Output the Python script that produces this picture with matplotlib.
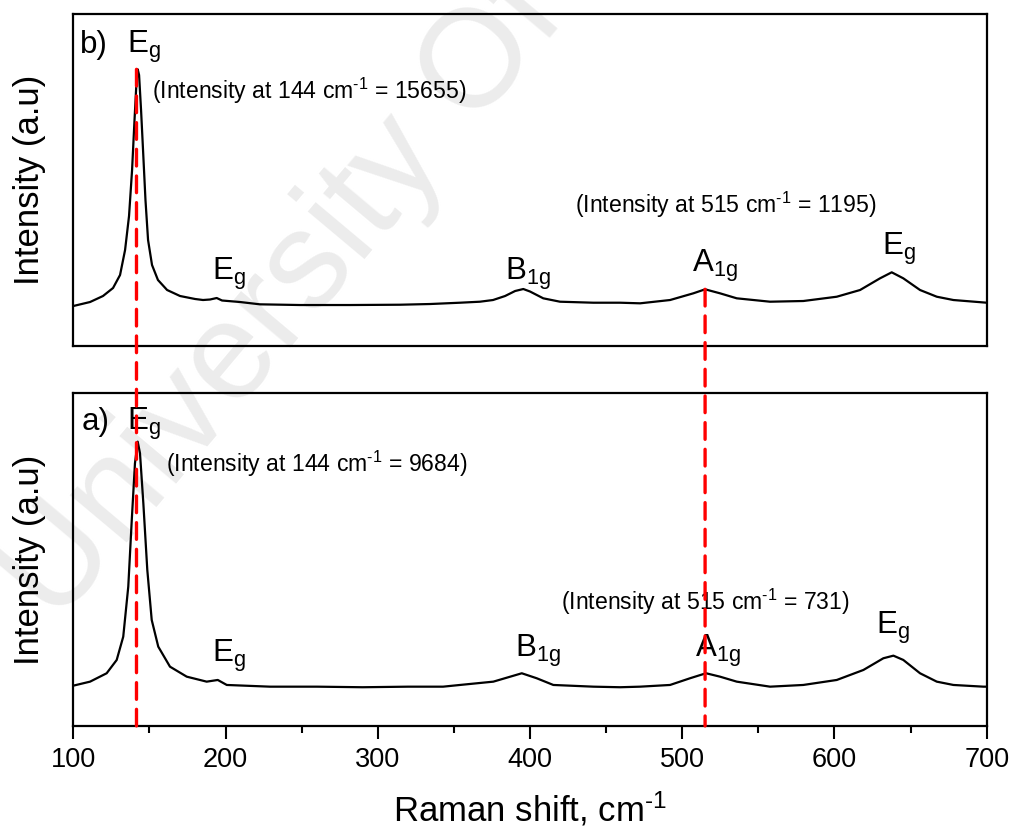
import numpy as np
import matplotlib.pyplot as plt
from matplotlib.patches import ConnectionPatch
from matplotlib.ticker import MultipleLocator

plt.rcParams['font.family'] = ['Liberation Sans', 'DejaVu Sans']
plt.rcParams['mathtext.fontset'] = 'custom'
plt.rcParams['mathtext.rm'] = 'Liberation Sans'
plt.rcParams['mathtext.it'] = 'Liberation Sans:italic'

# ---- spectrum b) (upper panel) ----
shift_b = [100, 111.0, 119.5, 126.1, 130.7, 134.0, 136.6, 138.6, 140.2, 141.5,
           142.3, 143.2, 144.5, 145.8, 147.4, 149.1, 151.7, 155.6, 161.6, 170.1,
           180.0, 185.2, 189.8, 194.2, 197.7, 209.5, 222.6, 248.9, 281.8, 314.6,
           334.3, 354.0, 367.1, 375.7, 383.6, 390.2, 395.6, 400.0, 408.7, 419.7,
           441.6, 459.2, 472.3, 492.0, 507.3, 515.0, 524.8, 535.8, 557.7, 579.5,
           601.5, 616.8, 629.9, 637.6, 645.2, 656.2, 667.2, 678.1, 700]
int_b = [97, 360, 755, 1281, 2135, 3778, 6012, 9036, 12322, 14820,
         15655, 15280, 12979, 10351, 7065, 4436, 2793, 1807, 1150, 755,
         558, 492, 524, 623, 459, 360, 208, 162, 162, 182,
         228, 314, 380, 491, 754, 1083, 1214, 1050, 603, 380,
         314, 314, 274, 491, 932, 1195, 932, 603, 380, 426,
         708, 1149, 1917, 2312, 1917, 1149, 708, 491, 314]

# ---- spectrum a) (lower panel) ----
shift_a = [100, 111.0, 121.9, 128.5, 132.8, 136.1, 138.4, 140.5, 142.3, 143.8,
           146.0, 148.6, 151.5, 155.8, 163.5, 174.5, 187.6, 194.9, 200.8, 229.2,
           260.0, 290.0, 320.0, 342.9, 354.0, 375.9, 394.6, 404.4, 415.3, 441.6,
           459.2, 472.3, 492.0, 505.1, 515.6, 524.8, 535.8, 557.7, 579.5, 601.5,
           619.0, 632.1, 638.7, 645.2, 656.2, 667.2, 678.1, 697.8, 700]
int_a = [251, 406, 730, 1245, 2145, 4078, 6657, 8849, 9684, 9236,
         7303, 4724, 2791, 1759, 985, 599, 406, 471, 278, 212,
         212, 190, 212, 212, 278, 406, 730, 537, 278, 212,
         190, 212, 278, 537, 731, 599, 406, 212, 278, 471,
         858, 1310, 1411, 1245, 730, 406, 278, 212, 212]

# dashed guide lines: Raman shift and where they start in panel b)
mark_shift = [141.5, 515]
mark_start = [15655, 1195]

xlim = (100, 700)
ylim_b = (-2532, 19270)
ylim_a = (-1307, 11555)

fig = plt.figure(figsize=(10.14, 8.38), dpi=100)

# faint watermark behind everything
fig.text(-0.02, 0.265, 'University Of Malaya', rotation=50, fontsize=100,
         color='#ececec', ha='left', va='baseline', zorder=-5)

ax_b = fig.add_axes([0.0723, 0.5871, 0.9008, 0.3958])
ax_a = fig.add_axes([0.0723, 0.1337, 0.9008, 0.3970])

for ax in (ax_b, ax_a):
    ax.set_facecolor('none')
    ax.set_xlim(*xlim)
    ax.set_yticks([])
    for sp in ax.spines.values():
        sp.set_linewidth(1.6)
    ax.set_ylabel('Intensity (a.u)', fontsize=25, labelpad=20)

ax_b.set_ylim(*ylim_b)
ax_a.set_ylim(*ylim_a)

ax_b.plot(shift_b, int_b, color='black', lw=1.6)
ax_a.plot(shift_a, int_a, color='black', lw=1.6)

ax_b.set_xticks([])
ax_a.xaxis.set_major_locator(MultipleLocator(100))
ax_a.xaxis.set_minor_locator(MultipleLocator(50))
ax_a.tick_params(axis='x', which='major', direction='out', length=9, width=1.5,
                 labelsize=19.5, pad=6)
ax_a.tick_params(axis='x', which='minor', direction='out', length=5, width=1.5)

inv = r'$\mathregular{^{\text{-}1}}$'
ax_a.set_xlabel('Raman shift, cm' + inv, fontsize=25, labelpad=12)

lbl = 22.5
note = 16.6

# panel b) labels
ax_b.text(104.4, 16707, 'b)', fontsize=lbl)
ax_b.text(135.1, 16707, r'$\mathregular{E_g}$', fontsize=lbl)
ax_b.text(151.5, 13683, '(Intensity at 144 cm' + inv + ' = 15655)', fontsize=note)
ax_b.text(190.9, 1806, r'$\mathregular{E_g}$', fontsize=lbl)
ax_b.text(383.6, 1806, r'$\mathregular{B_{1g}}$', fontsize=lbl)
ax_b.text(506.2, 2351, r'$\mathregular{A_{1g}}$', fontsize=lbl)
ax_b.text(631.0, 3449, r'$\mathregular{E_g}$', fontsize=lbl)
ax_b.text(429.6, 6190, '(Intensity at 515 cm' + inv + ' = 1195)', fontsize=note)

# panel a) labels
ax_a.text(105.5, 10136, 'a)', fontsize=lbl)
ax_a.text(135.1, 10136, r'$\mathregular{E_g}$', fontsize=lbl)
ax_a.text(160.9, 8524, '(Intensity at 144 cm' + inv + ' = 9684)', fontsize=note)
ax_a.text(190.9, 1179, r'$\mathregular{E_g}$', fontsize=lbl)
ax_a.text(390.2, 1372, r'$\mathregular{B_{1g}}$', fontsize=lbl)
ax_a.text(508.4, 1349, r'$\mathregular{A_{1g}}$', fontsize=lbl)
ax_a.text(627.3, 2250, r'$\mathregular{E_g}$', fontsize=lbl)
ax_a.text(420.4, 3178, '(Intensity at 515 cm' + inv + ' = 731)', fontsize=note)

# red dashed lines running from panel b) down through panel a)
for xs, ys in zip(mark_shift, mark_start):
    con = ConnectionPatch(xyA=(xs, ys), coordsA=ax_b.transData,
                          xyB=(xs, ylim_a[0]), coordsB=ax_a.transData,
                          color='red', lw=2.4, linestyle=(0, (5, 3)), zorder=5)
    fig.add_artist(con)

fig.savefig('out.png', dpi=100)
